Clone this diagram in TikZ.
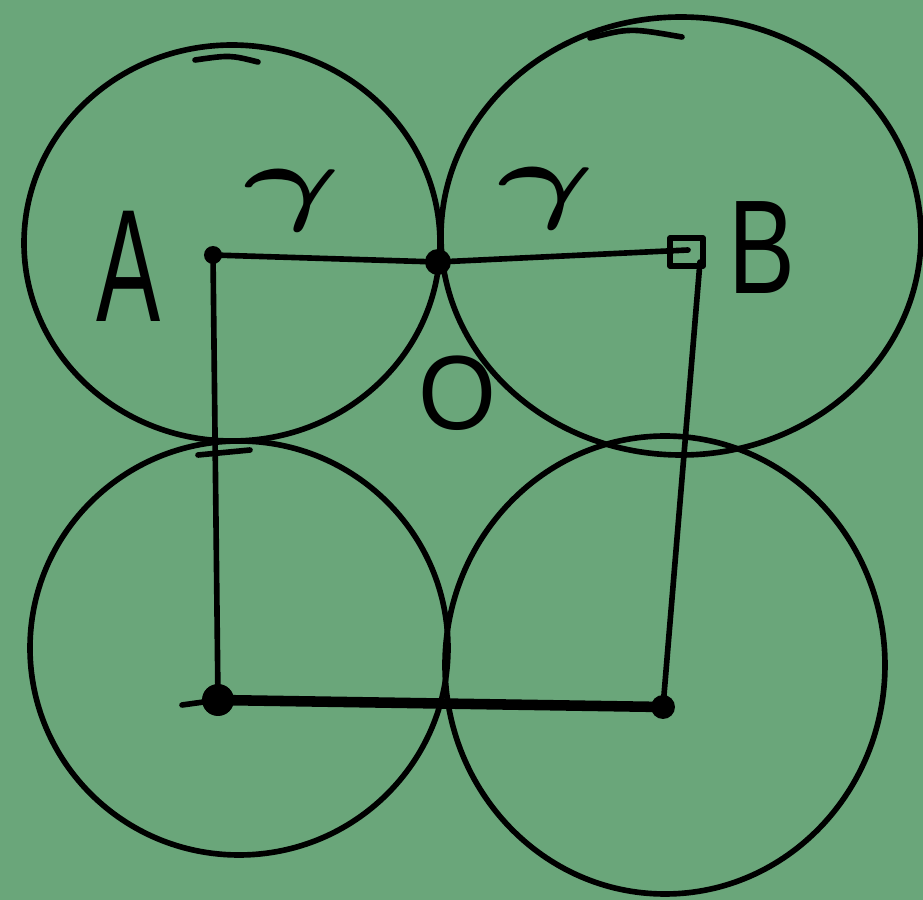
\documentclass[tikz,border=0pt]{standalone}
\usepackage{fontspec}
\setmainfont{Liberation Sans}
\definecolor{bg}{RGB}{106,166,122}
\begin{document}
\begin{tikzpicture}[x=0.01cm,y=-0.01cm,
  ink/.style={line width=1.6pt,line cap=round,line join=round},
  ring/.style={ink},
  seg/.style={ink},
  lbl/.style={inner sep=0pt,font=\fontsize{38}{40}\selectfont},
  rl/.style={inner sep=0pt,font=\fontsize{40}{42}\selectfont\boldmath,xscale=1.7,yscale=1.1},
  dotf/.style={fill=black}]
\fill[bg] (0,0) rectangle (923,900);
\useasboundingbox (0,0) rectangle (923,900);
% circles
\draw[ring] (232,243) ellipse [x radius=208, y radius=198];
\draw[ring] (681,236) ellipse [x radius=240, y radius=219];
\draw[ring] (239,648) ellipse [x radius=209, y radius=207];
\draw[ring] (665,665) ellipse [x radius=220, y radius=229];
% small strokes
\draw[ink] (195,60) .. controls (230,55) .. (258,62);
\draw[ink] (590,38) .. controls (630,28) .. (682,37);
\draw[ink] (198,455) -- (250,450);
% square corners
\coordinate (A) at (213,255);
\coordinate (T) at (438,262);
\coordinate (B) at (688,250);
\coordinate (C) at (218,700);
\coordinate (D) at (663,707);
\coordinate (Bb) at (700,262);
\draw[seg] (A) -- (T) -- (B);
\draw[seg] (A) -- (C);
\draw[seg] (Bb) -- (D);
\draw[seg,line width=3pt] (C) -- (D);
\draw[ink] (182,705) -- (C);
% dots
\fill[dotf] (T) circle (13);
\fill[dotf] (A) circle (9);
\draw[ink] (670,238) rectangle (703,266);
\fill[dotf] (C) circle (16);
\fill[dotf] (D) circle (12);
% labels
\node[lbl,xscale=0.72,yscale=1.2] (la) at (129,266) {A};
\node[lbl,xscale=0.75] (lb) at (762,248) {B};
\node[lbl,font=\fontsize{30}{32}\selectfont,xscale=0.95] (lo) at (457,393) {O};
\node[rl] (r1) at (292,200) {$\gamma$};
\node[rl] (r2) at (546,198) {$\gamma$};
\end{tikzpicture}
\end{document}
